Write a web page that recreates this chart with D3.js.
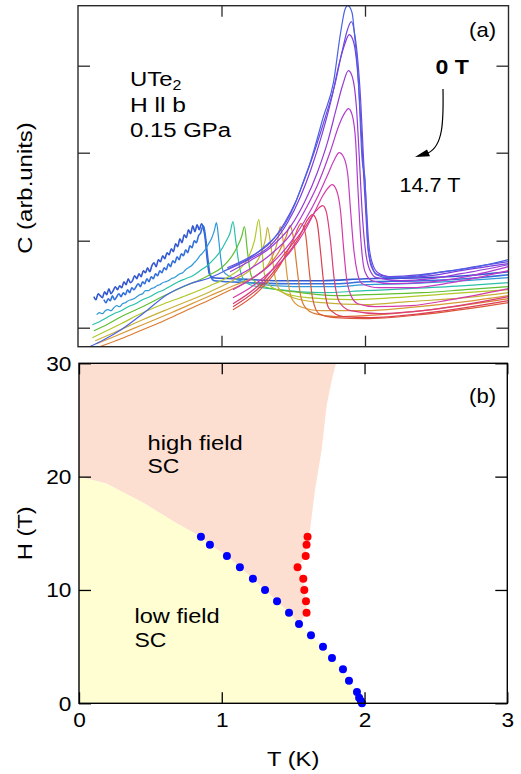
<!DOCTYPE html>
<html><head><meta charset="utf-8">
<script src="https://cdn.jsdelivr.net/npm/d3@7"></script>
<style>
body{margin:0;background:#fff;}
svg text{font-family:"Liberation Sans",Arial,Helvetica,sans-serif;fill:#000;}
</style>
</head><body>
<svg id="chart" width="521" height="774"></svg>
<script>
// ---------- DATA ----------
// panel (a): heat capacity curves, [T (K), C (arb. units)], ordered from 14.7 T to 0 T
const curveA = [[0.11,50],[0.125,47],[0.14,53],[0.155,51],[0.17,49],[0.185,55],[0.2,52],[0.215,58],[0.23,53],[0.245,56],[0.26,60],[0.275,57],[0.29,61],[0.305,59],[0.32,65],[0.335,62],[0.35,68],[0.365,64],[0.38,66],[0.395,71],[0.41,68],[0.425,73],[0.44,70],[0.455,76],[0.47,74],[0.485,79],[0.5,75],[0.515,81],[0.53,84],[0.545,80],[0.56,87],[0.575,85],[0.59,91],[0.605,88],[0.62,94],[0.635,92],[0.65,98],[0.665,95],[0.68,103],[0.695,100],[0.71,108],[0.725,104],[0.74,112],[0.755,109],[0.77,117],[0.785,113],[0.8,121],[0.815,115],[0.83,122],[0.845,117],[0.86,123],[0.875,118],[0.885,110],[0.90,88],[0.915,73],[0.94,69],[1.1,68],[1.4,66],[1.7,66],[2.0,68],[2.4,69],[2.7,71],[3.0,75]];
const curveB = [[0.18,47],[0.195,44],[0.21,48],[0.225,46],[0.24,51],[0.255,47],[0.27,50],[0.285,53],[0.30,50],[0.315,54],[0.33,52],[0.345,57],[0.36,54],[0.375,59],[0.39,57],[0.405,60],[0.42,63],[0.435,60],[0.45,65],[0.465,63],[0.48,68],[0.495,65],[0.51,70],[0.525,68],[0.54,73],[0.555,71],[0.57,76],[0.585,74],[0.60,79],[0.615,77],[0.63,83],[0.645,80],[0.66,86],[0.675,84],[0.69,90],[0.705,87],[0.72,93],[0.735,91],[0.75,97],[0.765,94],[0.78,101],[0.795,99],[0.81,106],[0.825,104],[0.84,111],[0.855,114],[0.865,119],[0.875,121],[0.89,108],[0.905,88],[0.92,72],[0.95,66],[1.2,64],[1.5,63],[1.8,63],[2.0,65],[2.4,66],[2.7,68],[3.0,72]];
const curveC = [[0.13,32],[0.15,34],[0.17,33],[0.19,36],[0.21,37],[0.23,36],[0.25,39],[0.27,41],[0.29,40],[0.31,43],[0.33,44],[0.35,46],[0.37,47],[0.39,48],[0.41,50],[0.43,52],[0.45,53],[0.47,56],[0.49,56],[0.51,58],[0.53,59],[0.55,61],[0.57,62],[0.59,64],[0.61,65],[0.63,66],[0.65,68],[0.67,69],[0.69,71],[0.71,73],[0.73,74],[0.75,77],[0.77,79],[0.79,81],[0.81,84],[0.83,87],[0.85,91],[0.87,94],[0.89,98],[0.91,103],[0.93,108],[0.95,116],[0.965,124],[0.98,108],[0.995,88],[1.01,76],[1.06,70],[1.2,64],[1.5,60],[1.8,60],[2.0,62],[2.3,63],[2.7,66],[3.0,69]];
const curveD = [[0.10,22],[0.15,25],[0.20,29],[0.25,33],[0.30,36],[0.35,40],[0.40,43],[0.45,47],[0.50,50],[0.55,54],[0.60,57],[0.65,61],[0.70,65],[0.75,68],[0.80,71],[0.85,76],[0.90,81],[0.95,88],[0.99,95],[1.03,105],[1.06,114],[1.08,125],[1.10,105],[1.125,80],[1.15,68],[1.2,62],[1.4,57],[1.7,54],[2.0,56],[2.3,58],[2.7,61],[3.0,64]];
const curveE = [[0.11,16],[0.20,22],[0.30,30],[0.45,40],[0.60,51],[0.75,61],[0.85,67],[0.92,72],[1.0,79],[1.06,88],[1.11,100],[1.14,110],[1.16,120],[1.18,96],[1.205,72],[1.24,64],[1.3,60],[1.5,55],[1.8,51],[2.0,52],[2.4,54],[2.7,57],[3.0,60]];
const curveF = [[0.10,9],[0.20,16],[0.30,23],[0.45,34],[0.60,43],[0.75,51],[0.92,61],[1.05,70],[1.13,78],[1.19,90],[1.23,106],[1.26,127],[1.28,100],[1.30,72],[1.33,62],[1.4,56],[1.6,49],[1.9,47],[2.2,49],[2.6,53],[3.0,57]];
const curveG = [[0.12,6],[0.25,14],[0.45,27],[0.65,39],[0.92,55],[1.1,68],[1.22,80],[1.28,95],[1.31,110],[1.32,119],[1.345,100],[1.37,72],[1.40,58],[1.5,49],[1.7,44],[2.0,42],[2.3,45],[2.7,49],[3.0,54]];
const curveH = [[0.13,3],[0.25,10],[0.45,22],[0.65,34],[0.92,51],[1.1,62],[1.25,72],[1.34,86],[1.39,105],[1.41,120],[1.435,100],[1.46,68],[1.49,48],[1.55,40],[1.7,36],[2.0,36],[2.3,39],[2.7,45],[3.0,51]];
const curveI = [[0.15,0],[0.30,8],[0.45,17],[0.60,26],[0.75,36],[0.92,47],[1.05,56],[1.20,67],[1.32,80],[1.40,95],[1.45,110],[1.478,121],[1.50,110],[1.525,80],[1.55,52],[1.58,40],[1.65,33],[1.80,30],[2.0,31],[2.4,36],[3.0,48]];
const curveJ = [[1.08,37],[1.27,57],[1.41,82],[1.50,107],[1.555,123],[1.585,113],[1.61,78],[1.635,48],[1.68,33],[1.79,29],[2.0,28],[2.39,32],[3.0,44]];
const curveK = [[1.08,40],[1.27,60],[1.44,89],[1.55,112],[1.60,127],[1.635,132],[1.665,125],[1.69,95],[1.715,60],[1.75,38],[1.85,30],[2.04,29],[2.39,33],[3.0,46]];
const curveL = [[1.08,43],[1.27,63],[1.44,93],[1.58,119],[1.66,136],[1.705,141],[1.73,135],[1.76,105],[1.785,68],[1.82,45],[1.90,36],[2.10,33],[2.46,37],[3.0,50]];
const curveM = [[1.08,49],[1.20,59],[1.34,75],[1.48,95],[1.58,116],[1.65,135],[1.71,152],[1.75,160],[1.77,162],[1.80,157],[1.83,135],[1.85,100],[1.87,70],[1.90,52],[1.95,43],[2.07,40],[2.32,41],[2.60,47],[3.0,58]];
const curveN = [[1.08,57],[1.20,67],[1.34,82],[1.48,104],[1.58,126],[1.67,150],[1.74,172],[1.79,188],[1.82,194],[1.85,190],[1.88,172],[1.90,135],[1.92,100],[1.945,75],[1.98,63],[2.10,59],[2.32,59],[2.60,64],[3.0,76]];
const curveO = [[1.07,68],[1.20,78],[1.34,92],[1.48,112],[1.58,136],[1.67,162],[1.76,196],[1.82,222],[1.86,234],[1.885,238],[1.91,232],[1.935,205],[1.95,160],[1.965,120],[1.98,92],[2.00,75],[2.05,66],[2.18,63],[2.39,64],[2.67,69],[3.0,80]];
const curveP = [[1.06,75],[1.20,86],[1.34,99],[1.48,120],[1.58,145],[1.67,175],[1.74,205],[1.80,238],[1.845,262],[1.885,276],[1.915,268],[1.94,240],[1.96,190],[1.98,135],[2.00,100],[2.03,78],[2.08,69],[2.25,66],[2.46,68],[2.67,73],[3.0,82]];
const curveQ = [[1.04,77],[1.20,88],[1.34,101],[1.46,124],[1.55,150],[1.62,176],[1.70,212],[1.77,250],[1.82,283],[1.86,303],[1.89,312],[1.92,305],[1.945,280],[1.965,240],[1.985,185],[2.005,135],[2.02,100],[2.045,80],[2.09,72],[2.25,69],[2.46,71],[2.67,76],[3.0,83]];
const curveR = [[1.04,79],[1.20,90],[1.34,104],[1.44,124],[1.52,146],[1.58,168],[1.64,192],[1.72,228],[1.79,262],[1.84,295],[1.88,318],[1.905,325],[1.93,311],[1.95,286],[1.97,246],[1.99,187],[2.01,140],[2.025,105],[2.05,84],[2.09,74],[2.18,70],[2.39,72],[2.60,76],[2.81,81],[3.0,85]];
const curveS = [[0.08,0],[0.18,7],[0.30,17],[0.46,34],[0.62,52],[0.78,63],[0.92,69],[1.01,75],[1.09,81],[1.20,89],[1.30,100],[1.37,109],[1.44,122],[1.51,142],[1.57,165],[1.62,185],[1.71,230],[1.78,264],[1.83,314],[1.86,337],[1.88,341],[1.91,334],[1.93,307],[1.955,264],[1.97,214],[1.98,187],[2.00,167],[2.01,134],[2.02,100],[2.05,80],[2.08,72],[2.16,69],[2.32,70],[2.55,75],[2.79,80],[3.0,87]];
const curveColors = ["#3358d0","#3470dc","#2e98d8","#28c0a8","#60c030","#b0c828","#c8b038","#d89a38","#dc7a30","#dc5838","#dc3e50","#dc3c7a","#d63aa6","#c83ac4","#b03ad0","#963ad6","#7d3ddb","#6a4ae0","#4a62e4"];
const curves = [curveA,curveB,curveC,curveD,curveE,curveF,curveG,curveH,curveI,curveJ,curveK,curveL,curveM,curveN,curveO,curveP,curveQ,curveR,curveS];
const cTicks = [19,106,194,281];

// panel (b): phase diagram, [T (K), H (T)]
const blueTc = [[0.854,14.7],[0.917,14.0],[1.036,13.0],[1.127,12.0],[1.218,11.0],[1.303,10.0],[1.387,9.0],[1.471,8.0],[1.541,7.0],[1.625,6.0],[1.709,5.0],[1.772,4.0],[1.849,3.0],[1.891,2.0],[1.947,1.0],[1.962,0.5],[1.975,0.2],[1.982,0.0]];
const redTc = [[1.601,14.7],[1.594,14.0],[1.588,13.0],[1.531,12.0],[1.571,11.0],[1.578,10.0],[1.590,9.0],[1.594,8.0]];
const lowFieldEdge = [[0,20],[0.19,19.4],[0.45,17.7],[0.68,15.9],[0.854,14.7]];
const highFieldEdge = [[0,20],[0,30],[1.80,30],[1.77,28.5],[1.735,26.3],[1.70,22.4],[1.653,18.8],[1.618,15.3]];
const tTicks = [0,1,2,3];
const hTicks = [0,10,20,30];

// ---------- DRAW ----------
const svg = d3.select("#chart");
const xa = d3.scaleLinear().domain([0,3]).range([78,508.5]);
const ya = d3.scaleLinear().domain([0,341]).range([346.7,5.7]);
const xb = d3.scaleLinear().domain([0,3]).range([79,507.3]);
const yb = d3.scaleLinear().domain([0,30]).range([703.3,363.3]);

function txt(g, x, y, s, o={}){
  const size=o.size||21, sx=o.sx||1.14, rot=o.rot?` rotate(${o.rot})`:"";
  const t=g.append("text").attr("transform",`translate(${x},${y})${rot} scale(${sx},1)`)
    .attr("font-size",size).attr("text-anchor",o.anchor||"start");
  if(o.weight) t.attr("font-weight",o.weight);
  if(s!==null) t.text(s);
  return t;
}

// ----- panel (a)
svg.append("clipPath").attr("id","clipA").append("rect")
  .attr("x",xa(0)).attr("y",ya(341)).attr("width",xa(3)-xa(0)).attr("height",ya(0)-ya(341));
const lineA = d3.line().x(d=>xa(d[0])).y(d=>ya(d[1])).curve(d3.curveMonotoneX);
const gc = svg.append("g").attr("clip-path","url(#clipA)");
curves.forEach((c,i)=>{
  gc.append("path").attr("d",lineA(c)).attr("fill","none")
    .attr("stroke",curveColors[i]).attr("stroke-width", i<2?1.6:1.2).attr("stroke-linejoin","round");
});

function inwardAxes(x,y,xt,yt,xLab,yLab,col){
  const g = svg.append("g");
  g.append("g").attr("transform",`translate(0,${y.range()[0]})`)
    .call(d3.axisBottom(x).tickValues(xt).tickSize(-11).tickPadding(9).tickFormat(xLab?d3.format("d"):""));
  g.append("g").attr("transform",`translate(0,${y.range()[1]})`)
    .call(d3.axisTop(x).tickValues(xt).tickSize(-11).tickFormat(""));
  g.append("g").attr("transform",`translate(${x.range()[0]},0)`)
    .call(d3.axisLeft(y).tickValues(yt).tickSize(-12).tickPadding(7).tickFormat(yLab?d3.format("d"):""));
  g.append("g").attr("transform",`translate(${x.range()[1]},0)`)
    .call(d3.axisRight(y).tickValues(yt).tickSize(-12).tickFormat(""));
  g.selectAll(".domain").remove();
  g.selectAll(".tick line").attr("stroke",col).attr("stroke-width",1.3);
  g.selectAll(".tick text").attr("font-size",21).attr("fill","#000")
    .attr("font-family","Liberation Sans, Arial, sans-serif").attr("transform","scale(1.08,1)");
  g.append("rect").attr("x",x.range()[0]).attr("y",y.range()[1])
    .attr("width",x.range()[1]-x.range()[0]).attr("height",y.range()[0]-y.range()[1])
    .attr("fill","none").attr("stroke",col).attr("stroke-width",1.4);
}
inwardAxes(xa,ya,[1,2],cTicks,false,false,"#2a2a2a");

// texts panel (a)
const ta = svg.append("g");
const ute = txt(ta,130,86,null);
ute.append("tspan").text("UTe");
ute.append("tspan").attr("font-size",14).attr("dy",4).text("2");
txt(ta,130,111.7,"H ll b",{sx:1.17});
txt(ta,130,136.7,"0.15 GPa",{sx:1.14});
txt(ta,496,36.5,"(a)",{anchor:"end",sx:1.05});
txt(ta,435.5,74,"0 T",{weight:"bold",sx:1.1});
txt(ta,399.5,192,"14.7 T",{sx:1.03});
svg.append("path").attr("d","M443,89 C443.6,122 443,146 428,153").attr("fill","none")
  .attr("stroke","#000").attr("stroke-width",1.2);
svg.append("path").attr("d","M415,157 L427,149.5 L430,156.3 Z").attr("fill","#000");
txt(svg,32,188,"C (arb.units)",{anchor:"middle",rot:-90,sx:1.14});

// ----- panel (b)
const lineB = d3.line().x(d=>xb(d[0])).y(d=>yb(d[1]));
const blueDesc = blueTc.slice().sort((a,b)=>b[1]-a[1]); // from 14.7 T to 0 T
const yellowPoly = [[0,0]].concat(lowFieldEdge, blueDesc, [[1.982,0]]);
const blueUpper = blueDesc.filter(d=>d[1]>=7).slice().reverse(); // 7 T -> 14.7 T
const pinkPoly = highFieldEdge.concat(redTc, blueUpper, lowFieldEdge.slice().reverse());
svg.append("path").attr("d",lineB(pinkPoly)+"Z").attr("fill","#fddfd2").attr("stroke","none");
svg.append("path").attr("d",lineB(yellowPoly)+"Z").attr("fill","#fefed2").attr("stroke","none");

svg.append("g").selectAll("circle").data(blueTc).join("circle")
  .attr("cx",d=>xb(d[0])).attr("cy",d=>yb(d[1])).attr("r",4).attr("fill","#0000ff");
svg.append("g").selectAll("circle").data(redTc).join("circle")
  .attr("cx",d=>xb(d[0])).attr("cy",d=>yb(d[1])).attr("r",4).attr("fill","#ff0000");

inwardAxes(xb,yb,tTicks,hTicks,true,true,"#000");

const tb = svg.append("g");
txt(tb,147.5,450,"high field",{size:20.5,sx:1.16});
txt(tb,147.5,473,"SC",{size:20.5,sx:1.12});
txt(tb,134.5,622.7,"low field",{size:20.5,sx:1.15});
txt(tb,134.5,646.7,"SC",{size:20.5,sx:1.12});
txt(tb,496,403,"(b)",{anchor:"end",sx:1.05});
txt(svg,(xb(0)+xb(3))/2,766,"T (K)",{anchor:"middle",sx:1.13});
txt(svg,32,(yb(0)+yb(30))/2,"H (T)",{anchor:"middle",rot:-90,sx:1.13});
</script>
</body></html>
